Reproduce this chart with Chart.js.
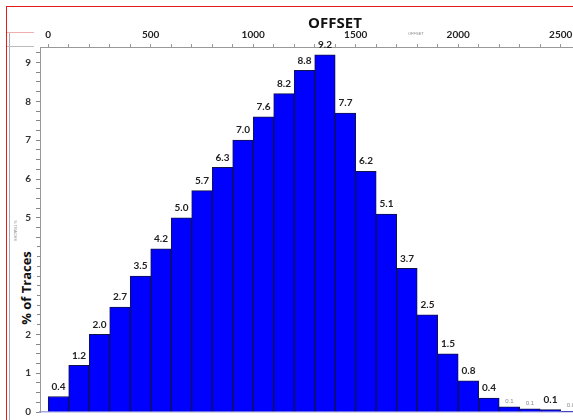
<!DOCTYPE html>
<html>
<head>
<meta charset="utf-8">
<script src="https://cdn.jsdelivr.net/npm/chart.js@4/dist/chart.umd.min.js"></script>
<style>
  body { margin: 0; background: #fff; }
  #wrap { position: relative; width: 573px; height: 420px; overflow: hidden; }
  #c { position: absolute; left: 0; top: 0; }
  .line { position: absolute; }
  #xtitle { position: absolute; left: 300px; top: 12px; width: 70px; text-align: center;
    font: bold 15px "Open Sans", sans-serif; color: #111; }
  #ytitle { position: absolute; left: -16px; top: 278px; width: 86px; height: 20px; line-height: 20px;
    text-align: center; transform: rotate(-90deg); background: #fff;
    font: bold 13px "Open Sans", sans-serif; color: #111; }
  .tiny { position: absolute; font: 4px "Liberation Sans", sans-serif; color: #888; white-space: nowrap; }
</style>
</head>
<body>
<div id="wrap">
  <canvas id="c" width="573" height="420"></canvas>
  <div class="line" style="left:6px;top:6px;width:567px;height:1px;background:#e21b1b"></div>
  <div class="line" style="left:6px;top:6px;width:1px;height:414px;background:#e21b1b"></div>
  <div class="line" style="left:9px;top:32px;width:1px;height:388px;background:#aaa"></div>
  <div class="line" style="left:7px;top:32px;width:27px;height:1px;background:#f0b0b0"></div>
  <div class="line" style="left:7px;top:46px;width:27px;height:1px;background:#bbb"></div>
  <div id="xtitle">OFFSET</div>
  <div id="ytitle">% of Traces</div>
  <div class="tiny" style="left:408px;top:31px">OFFSET</div>
  <div class="tiny" style="left:5px;top:228px;transform:rotate(90deg)">% TRACES</div>
</div>
<script>
// offset bins (start of each 100 m bin) and % of traces in each
const binStarts = [0, 100, 200, 300, 400, 500, 600, 700, 800, 900, 1000, 1100, 1200,
  1300, 1400, 1500, 1600, 1700, 1800, 1900, 2000, 2100, 2200, 2300, 2400, 2500];
const binWidth = 100;
const tracePct = [0.4, 1.2, 2.0, 2.7, 3.5, 4.2, 5.0, 5.7, 6.3, 7.0, 7.6, 8.2, 8.8,
  9.2, 7.7, 6.2, 5.1, 3.7, 2.5, 1.5, 0.8, 0.36, 0.13, 0.08, 0.06, 0.01];
// bins whose value label is printed small and grey
const smallLabelBins = [22, 23, 25];

const xTickLabels = [0, 500, 1000, 1500, 2000, 2500];
const yTickLabels = [0, 1, 2, 3, 4, 5, 6, 7, 8, 9];

const points = binStarts.map((b, i) => ({ x: b + binWidth / 2, y: tracePct[i] }));

// value labels above each bar
const barLabels = {
  id: 'barLabels',
  afterDatasetsDraw(chart) {
    const ctx = chart.ctx;
    const meta = chart.getDatasetMeta(0);
    ctx.save();
    ctx.textAlign = 'center';
    ctx.textBaseline = 'middle';
    meta.data.forEach((bar, i) => {
      const small = smallLabelBins.includes(i);
      ctx.font = small ? '6px "Liberation Sans", sans-serif' : 'bold 10px Lato, sans-serif';
      ctx.fillStyle = small ? '#888' : '#222';
      ctx.fillText(tracePct[i].toFixed(1), bar.x, bar.y - (small ? 6 : 10));
    });
    ctx.restore();
  }
};

const noPad = s => { s.paddingLeft = 0; s.paddingRight = 0; s.paddingTop = 0; s.paddingBottom = 0; };

new Chart(document.getElementById('c'), {
  type: 'bar',
  data: {
    datasets: [{
      data: points,
      xAxisID: 'x',
      backgroundColor: '#0000ff',
      borderColor: '#12124a',
      borderWidth: 1,
      barPercentage: 1,
      categoryPercentage: 1
    }]
  },
  options: {
    responsive: false,
    animation: false,
    layout: { padding: 0 },
    plugins: { legend: { display: false }, tooltip: { enabled: false } },
    scales: {
      x: {
        type: 'linear', position: 'top', min: -40, max: 2560, offset: false,
        afterBuildTicks: s => { s.ticks = binStarts.map(v => ({ value: v })); },
        afterFit: s => { s.height = 47; noPad(s); },
        ticks: {
          autoSkip: false, maxRotation: 0, padding: 3,
          color: '#222', font: { family: 'Lato', weight: 'bold', size: 10 },
          callback: v => xTickLabels.includes(v) ? String(v) : ''
        },
        grid: { offset: false, drawOnChartArea: false, tickLength: 3, color: '#999' },
        border: { color: '#999' }
      },
      xb: {
        type: 'linear', position: 'bottom', min: -40, max: 2560, offset: false,
        afterFit: s => { s.height = 8; noPad(s); },
        ticks: { display: false },
        grid: { display: false },
        border: { color: '#a8a8e0', width: 1.5 }
      },
      y: {
        min: 0, max: 9.4,
        afterBuildTicks: s => {
          const t = [];
          for (let k = 0; k <= 37; k++) t.push({ value: k * 0.25 });
          s.ticks = t;
        },
        afterFit: s => { s.width = 40; noPad(s); },
        ticks: {
          autoSkip: false, padding: 5,
          color: '#333', font: { family: 'Lato', weight: 'bold', size: 10 },
          callback: v => {
            const r = Math.round(v);
            return Math.abs(v - r) < 1e-6 && yTickLabels.includes(r) ? String(r) : '';
          }
        },
        grid: { drawOnChartArea: false, tickLength: 4, color: '#888' },
        border: { color: '#999' }
      }
    }
  },
  plugins: [barLabels]
});
</script>
</body>
</html>
